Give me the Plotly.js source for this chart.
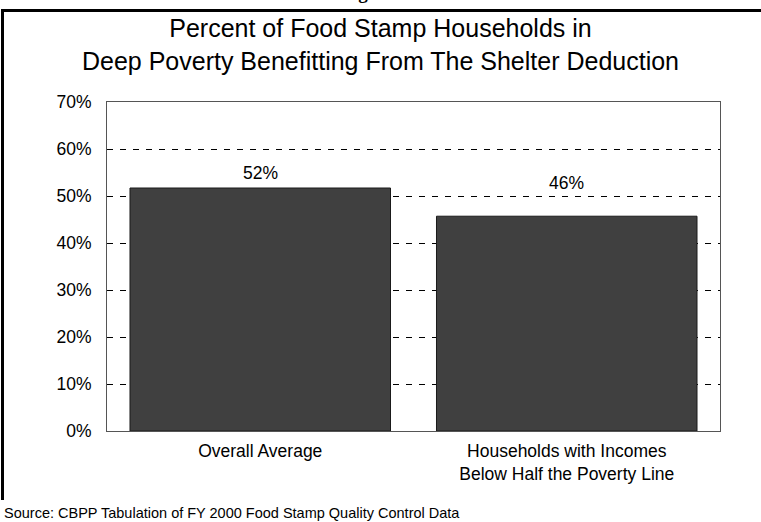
<!DOCTYPE html>
<html>
<head>
<meta charset="utf-8">
<script src="https://cdn.plot.ly/plotly-3.0.1.min.js"></script>
<style>
  html, body { margin: 0; padding: 0; background: #fff; overflow: hidden; }
  #wrap { position: relative; width: 761px; height: 522px; overflow: hidden; }
  #frame { position: absolute; left: 1px; top: 9px; width: 900px; height: 488px;
           border-left: 3px solid #000; border-top: 3px solid #000; pointer-events: none; }
  #fig { position: absolute; left: 0; top: -17px; width: 200px; text-align: center;
         margin-left: 268px; font-family: "Liberation Serif", "Times New Roman", serif;
         font-weight: bold; font-size: 19px; line-height: 19px; }
  #chart { position: absolute; left: 0; top: 0; width: 761px; height: 522px; }
</style>
</head>
<body>
<div id="wrap">
  <div id="fig">Figure</div>
  <div id="chart"></div>
  <div id="frame"></div>
</div>
<script>
const categories = ["Overall Average", "Households with Incomes<br>Below Half the Poverty Line"];
const values = [51.7, 45.7];
const valueLabels = ["52%", "46%"];
const yTickValues = [0, 10, 20, 30, 40, 50, 60, 70];
const yTickLabels = ["0%", "10%", "20%", "30%", "40%", "50%", "60%", "70%"];
const titleText = "Percent of Food Stamp Households in<br>Deep Poverty Benefitting From The Shelter Deduction";
const sourceText = "Source: CBPP Tabulation of FY 2000 Food Stamp Quality Control Data";

const font = "Liberation Sans, Arial, sans-serif";
const labelShift = [15, 33];

const trace = {
  type: "bar",
  x: categories,
  y: values,
  cliponaxis: false,
  marker: { color: "#404040", line: { color: "#1a1a1a", width: 1 } },
  hoverinfo: "none"
};

const valueAnnotations = categories.map((c, i) => ({
  x: c, y: values[i], xref: "x", yref: "y",
  text: valueLabels[i], showarrow: false,
  yanchor: "middle", yshift: labelShift[i],
  font: { family: font, size: 17.5, color: "#000" }
}));

const layout = {
  width: 761,
  height: 522,
  margin: { l: 107, r: 41, t: 102, b: 91 },
  paper_bgcolor: "rgba(0,0,0,0)",
  plot_bgcolor: "#fff",
  showlegend: false,
  bargap: 0.15,
  font: { family: font, color: "#000" },
  title: {
    text: titleText,
    font: { family: font, size: 25, color: "#000" },
    x: 0.5, xanchor: "center",
    y: 1 - 37 / 522, yref: "container", yanchor: "middle"
  },
  xaxis: {
    type: "category",
    showgrid: false,
    showline: true, linecolor: "#555", linewidth: 1, mirror: true,
    ticks: "",
    ticklabelstandoff: 4,
    tickfont: { family: font, size: 17.5, color: "#000" },
    fixedrange: true
  },
  yaxis: {
    range: [0, 70],
    tickvals: yTickValues,
    ticktext: yTickLabels,
    showgrid: true, gridcolor: "#000", gridwidth: 1, griddash: "6px,7px",
    showline: true, linecolor: "#555", linewidth: 1, mirror: true,
    zeroline: false,
    ticks: "", ticklen: 0,
    ticklabelstandoff: 11,
    tickfont: { family: font, size: 17.5, color: "#000" },
    fixedrange: true
  },
  annotations: valueAnnotations.concat([{
    text: sourceText,
    xref: "paper", yref: "paper",
    x: (2 - 107) / 613, xanchor: "left",
    y: (431 - 513) / 329, yanchor: "middle",
    showarrow: false,
    font: { family: font, size: 14.5, color: "#000" }
  }])
};

Plotly.newPlot("chart", [trace], layout, { staticPlot: true, displayModeBar: false });
</script>
</body>
</html>
